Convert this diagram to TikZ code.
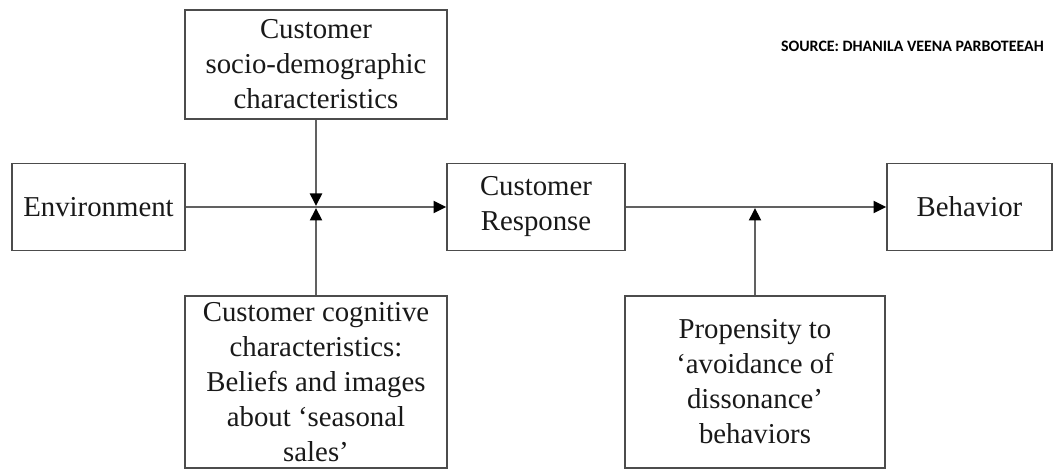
\documentclass[tikz,border=0pt]{standalone}
\usepackage{fontspec}
\setmainfont{Liberation Serif}
\newfontfamily\srcfont{Carlito}
\usetikzlibrary{arrows.meta}
\begin{document}
\begin{tikzpicture}[x=1pt,y=1pt,
  box/.style={draw=black!70,line width=1.8pt,inner sep=0pt,align=center,
    font=\fontsize{28.8}{35}\selectfont,text=black!90},
  conn/.style={draw=black!62,line width=2pt,-{Triangle[length=12.5pt,width=12pt,color=black]}},
  plain/.style={draw=black!62,line width=2pt}]
\useasboundingbox[fill=white] (0,0) rectangle (1054,470);
% y_tikz = 470 - y_image
\node[box,minimum width=262pt,minimum height=109pt] (top) at (316,405.5) {Customer\\socio-demographic\\characteristics};
\node[box,minimum width=173pt,minimum height=87pt] (env) at (98.5,263) {Environment};
\node[box,minimum width=178pt,minimum height=87pt] (resp) at (536,263) {Customer\\Response};
\node[box,minimum width=165pt,minimum height=87pt] (beh) at (969.5,263) {Behavior};
\node[box,minimum width=262pt,minimum height=172pt] (cog) at (316,88) {Customer cognitive\\characteristics:\\Beliefs and images\\about ‘seasonal\\sales’};
\node[box,minimum width=260pt,minimum height=172pt] (prop) at (755,88) {Propensity to\\‘avoidance of\\dissonance’\\behaviors};
\node[anchor=east,inner sep=0pt,font=\srcfont\bfseries\fontsize{15.9}{19}\selectfont,text=black] (src) at (1044,424) {SOURCE: DHANILA VEENA PARBOTEEAH};
\coordinate (j) at (top.south |- env.east);
\coordinate (jt) at ([yshift=1pt]j);
\coordinate (jb) at ([yshift=-1pt]j);
\draw[conn] (env.east) -- (resp.west);
\draw[conn] (resp.east) -- (beh.west);
\draw[conn] (top.south) -- (jt);
\draw[conn] (cog.north) -- (jb);
\draw[conn] (prop.north) -- ([yshift=-1pt]prop.north |- resp.east);
\end{tikzpicture}
\end{document}
